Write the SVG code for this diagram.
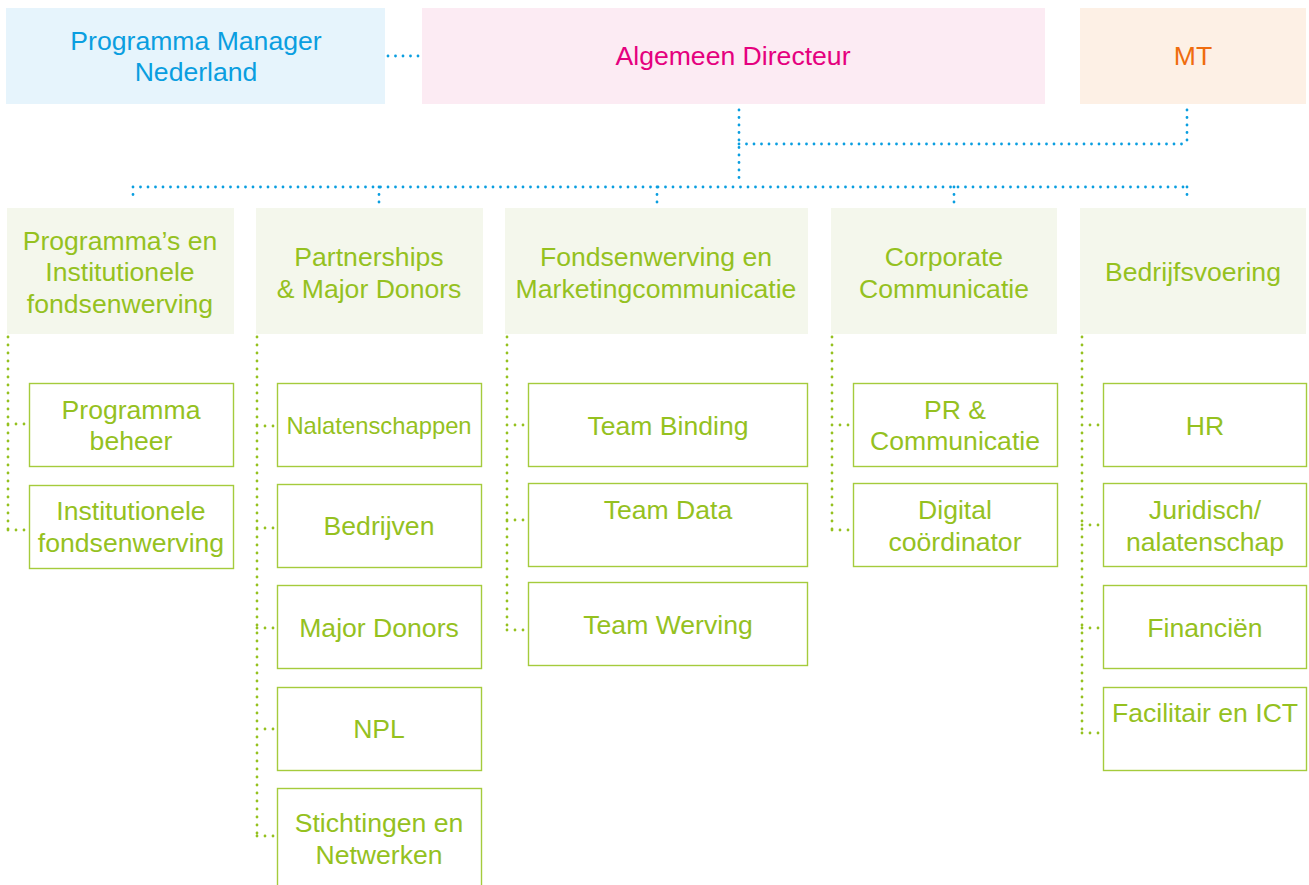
<svg xmlns="http://www.w3.org/2000/svg" width="1309" height="885" viewBox="0 0 1309 885">
<style>
text{font-family:"Liberation Sans",Arial,sans-serif;font-size:26.6px;text-anchor:middle}
.g{fill:#95c11f}
.l2{fill:#f4f7ec}
.l3{fill:#fff;stroke:#a5cb3c;stroke-width:1.4}
.bd{fill:none;stroke:#0a9ee0;stroke-width:2.8;stroke-linecap:round;stroke-dasharray:0 7.5}
.gd{fill:none;stroke:#95c11f;stroke-width:2.8;stroke-linecap:round;stroke-dasharray:0 8}
</style>
<rect width="1309" height="885" fill="#fff"/>
<g id="connectors">
<path class="bd" d="M388 56H420"/>
<path class="bd" d="M739 110V182M739 144H1187M1187 110V144"/>
<path class="bd" d="M133 187H1187M133 187V197M379 187V205M657 187V203M954 187V205M1187 187V199"/>
<path class="gd" d="M8 337V530M8 424H29M8 530H29"/>
<path class="gd" d="M257 337V836M257 426H277M257 528H277M257 628H277M257 729H277M257 836H277"/>
<path class="gd" d="M507 337V630M507 425H528M507 520H528M507 630H528"/>
<path class="gd" d="M832 337V530M832 425H853M832 530H853"/>
<path class="gd" d="M1082 337V733M1082 425H1103M1082 525H1103M1082 628H1103M1082 733H1103"/>
</g>
<g id="pm"><rect x="6" y="8" width="379" height="96" fill="#e6f4fc"/><text x="196" y="50" fill="#0a9ee0">Programma Manager</text><text x="196" y="81" fill="#0a9ee0">Nederland</text></g>
<g id="ad"><rect x="422" y="8" width="623" height="96" fill="#fcebf3"/><text x="733" y="65" fill="#e5007e">Algemeen Directeur</text></g>
<g id="mt"><rect x="1080" y="8" width="226" height="96" fill="#fdf0e5"/><text x="1193" y="65" fill="#ef6c0e">MT</text></g>

<g id="d1"><rect class="l2" x="7" y="208" width="227" height="126"/><text class="g" x="120" y="250">Programma’s en</text><text class="g" x="120" y="281">Institutionele</text><text class="g" x="120" y="313">fondsenwerving</text></g>
<g id="d2"><rect class="l2" x="256" y="208" width="227" height="126"/><text class="g" x="369" y="266">Partnerships</text><text class="g" x="369" y="298">&amp; Major Donors</text></g>
<g id="d3"><rect class="l2" x="505" y="208" width="303" height="126"/><text class="g" x="656" y="266">Fondsenwerving en</text><text class="g" x="656" y="298">Marketingcommunicatie</text></g>
<g id="d4"><rect class="l2" x="831" y="208" width="226" height="126"/><text class="g" x="944" y="266">Corporate</text><text class="g" x="944" y="298">Communicatie</text></g>
<g id="d5"><rect class="l2" x="1080" y="208" width="226" height="126"/><text class="g" x="1193" y="281">Bedrijfsvoering</text></g>

<g id="t1a"><rect class="l3" x="29.5" y="383.5" width="204" height="83"/><text class="g" x="131" y="419">Programma</text><text class="g" x="131" y="450">beheer</text></g>
<g id="t1b"><rect class="l3" x="29.5" y="485.5" width="204" height="83"/><text class="g" x="131" y="520">Institutionele</text><text class="g" x="131" y="552">fondsenwerving</text></g>

<g id="t2a"><rect class="l3" x="277.5" y="383.5" width="204" height="83"/><text class="g" x="379" y="434" style="font-size:23.8px">Nalatenschappen</text></g>
<g id="t2b"><rect class="l3" x="277.5" y="484.5" width="204" height="83"/><text class="g" x="379" y="535">Bedrijven</text></g>
<g id="t2c"><rect class="l3" x="277.5" y="585.5" width="204" height="83"/><text class="g" x="379" y="637">Major Donors</text></g>
<g id="t2d"><rect class="l3" x="277.5" y="687.5" width="204" height="83"/><text class="g" x="379" y="738">NPL</text></g>
<g id="t2e"><rect class="l3" x="277.5" y="788.5" width="204" height="110"/><text class="g" x="379" y="832">Stichtingen en</text><text class="g" x="379" y="864">Netwerken</text></g>

<g id="t3a"><rect class="l3" x="528.5" y="383.5" width="279" height="83"/><text class="g" x="668" y="435">Team Binding</text></g>
<g id="t3b"><rect class="l3" x="528.5" y="483.5" width="279" height="83"/><text class="g" x="668" y="519">Team Data</text></g>
<g id="t3c"><rect class="l3" x="528.5" y="582.5" width="279" height="83"/><text class="g" x="668" y="634">Team Werving</text></g>

<g id="t4a"><rect class="l3" x="853.5" y="383.5" width="204" height="83"/><text class="g" x="955" y="419">PR &amp;</text><text class="g" x="955" y="450">Communicatie</text></g>
<g id="t4b"><rect class="l3" x="853.5" y="483.5" width="204" height="83"/><text class="g" x="955" y="519">Digital</text><text class="g" x="955" y="551">coördinator</text></g>

<g id="t5a"><rect class="l3" x="1103.5" y="383.5" width="203" height="83"/><text class="g" x="1205" y="435">HR</text></g>
<g id="t5b"><rect class="l3" x="1103.5" y="483.5" width="203" height="83"/><text class="g" x="1205" y="519">Juridisch/</text><text class="g" x="1205" y="551">nalatenschap</text></g>
<g id="t5c"><rect class="l3" x="1103.5" y="585.5" width="203" height="83"/><text class="g" x="1205" y="637">Financiën</text></g>
<g id="t5d"><rect class="l3" x="1103.5" y="687.5" width="203" height="83"/><text class="g" x="1205" y="722">Facilitair en ICT</text></g>
</svg>
